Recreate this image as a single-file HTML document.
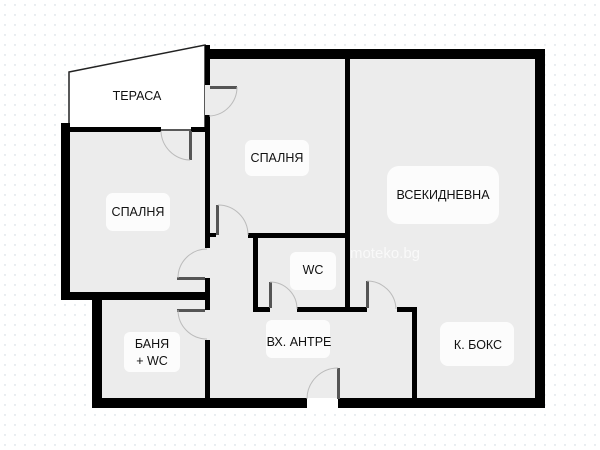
<!DOCTYPE html>
<html><head><meta charset="utf-8"><style>
body{margin:0;background:#fff;}
svg{display:block}
text{font-family:"Liberation Sans",sans-serif;font-size:12.5px;fill:#111;text-anchor:middle}
</style></head><body>
<svg width="600" height="450" viewBox="0 0 600 450" xmlns="http://www.w3.org/2000/svg">
<defs>
<pattern id="d" width="10" height="10" patternUnits="userSpaceOnUse"><circle cx="5" cy="5" r="0.7" fill="#c9d3dc"/></pattern>
</defs>
<rect width="600" height="450" fill="#fff"/>
<rect width="600" height="450" fill="url(#d)"/>
<polygon points="69,72 205,45 205,130 69,130" fill="#fff" stroke="#222" stroke-width="1.5"/>
<rect x="70" y="131" width="140" height="162" fill="#ececec"/>
<rect x="102" y="298" width="108" height="101" fill="#ececec"/>
<rect x="205" y="58" width="331" height="342" fill="#ececec"/>
<rect x="416" y="310" width="120" height="90" fill="#ececec"/>
<rect x="305" y="398" width="35" height="12" fill="#fff"/>
<g fill="#000">
<rect x="205" y="49" width="340" height="10"/>
<rect x="535" y="49" width="10" height="359"/>
<rect x="92" y="398" width="215" height="10"/>
<rect x="338" y="398" width="207" height="10"/>
<rect x="92" y="292" width="10" height="116"/>
<rect x="61" y="123" width="9" height="177"/>
<rect x="61" y="292" width="149" height="8"/>
<rect x="61" y="127" width="100" height="5"/>
<rect x="191" y="127" width="19" height="5"/>
<rect x="205" y="45" width="5" height="40"/>
<rect x="205" y="115" width="5" height="133"/>
<rect x="205" y="233" width="11" height="4"/>
<rect x="205" y="278" width="5" height="32"/>
<rect x="205" y="340" width="5" height="60"/>
<rect x="345" y="58" width="5" height="252"/>
<rect x="248" y="233" width="100" height="5"/>
<rect x="253" y="236" width="5" height="76"/>
<rect x="253" y="307" width="17" height="5"/>
<rect x="297" y="307" width="70" height="5"/>
<rect x="397" y="307" width="20" height="5"/>
<rect x="412" y="307" width="5" height="93"/>
</g>
<g fill="#555">
<rect x="210" y="86" width="27" height="3"/>
<rect x="189" y="131" width="3" height="29"/>
<rect x="216" y="205" width="3" height="30"/>
<rect x="177" y="277" width="28" height="3"/>
<rect x="177" y="309" width="28" height="3"/>
<rect x="269" y="282" width="3" height="26"/>
<rect x="366" y="281" width="3" height="27"/>
<rect x="337" y="368" width="3" height="31"/>
</g>
<g fill="none" stroke="#bbb" stroke-width="1">
<path d="M237,87 A29,29 0 0 1 209,116"/>
<path d="M190,160 A30,30 0 0 1 161,131"/>
<path d="M218,205 A30,30 0 0 1 248,235"/>
<path d="M178,278 A29,29 0 0 1 207,249"/>
<path d="M178,310 A29,29 0 0 0 207,339"/>
<path d="M270,282 A27,27 0 0 1 297,309"/>
<path d="M367,281 A29,29 0 0 1 396,309"/>
<path d="M338,368 A31,31 0 0 0 307,399"/>
</g>
<g fill="#fff" opacity="0.85">
<rect x="245" y="140" width="64" height="36" rx="7"/>
<rect x="106" y="193" width="64" height="38" rx="7"/>
<rect x="387" y="166" width="112" height="58" rx="12"/>
<rect x="290" y="252" width="46" height="38" rx="6"/>
<rect x="266" y="320" width="64" height="38" rx="6"/>
<rect x="124" y="332" width="56" height="40" rx="6"/>
<rect x="440" y="322" width="74" height="44" rx="8"/>
</g>
<text x="137" y="100">ТЕРАСА</text>
<text x="277" y="162">СПАЛНЯ</text>
<text x="138" y="216">СПАЛНЯ</text>
<text x="443" y="199">ВСЕКИДНЕВНА</text>
<text x="313" y="274">WC</text>
<text x="299" y="346">ВХ. АНТРЕ</text>
<text x="152" y="348">БАНЯ</text>
<text x="152" y="365">+ WC</text>
<text x="478" y="349">К. БОКС</text>
<text x="385" y="258" style="font-size:15px;fill:#fff;opacity:0.7">moteko.bg</text>
</svg>
</body></html>
